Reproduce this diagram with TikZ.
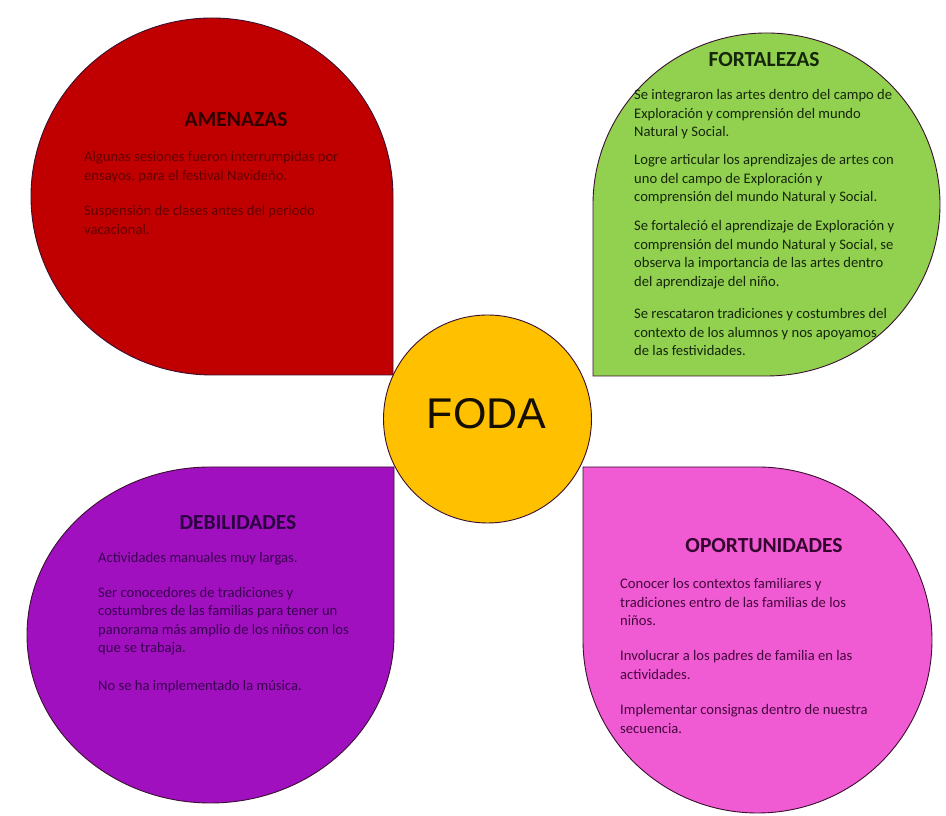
\documentclass[tikz,border=0pt]{standalone}
\usepackage{fontspec}
\setmainfont{Carlito}
\newfontfamily\fodafont{Liberation Sans}
\definecolor{redfill}{HTML}{C00000}
\definecolor{greenfill}{HTML}{92D050}
\definecolor{purplefill}{HTML}{A010BE}
\definecolor{pinkfill}{HTML}{F05AD2}
\definecolor{goldfill}{HTML}{FFC000}
\definecolor{redtxt}{HTML}{620000}
\definecolor{redttl}{HTML}{2E0000}
\definecolor{greentxt}{HTML}{15260A}
\definecolor{purpletxt}{HTML}{3A0052}
\definecolor{purplettl}{HTML}{2A0040}
\definecolor{pinktxt}{HTML}{45073F}
\definecolor{pinkttl}{HTML}{34062F}
\definecolor{edge}{HTML}{3A1030}
\tikzset{
  petal/.style={draw=edge, line width=0.9pt},
  ttl/.style={anchor=base, inner sep=0pt, font=\fontsize{21.5}{24}\selectfont\bfseries},
  para/.style={anchor=north west, inner sep=0pt, align=left, font=\fontsize{14.6}{18.5}\selectfont},
}
\begin{document}
\begin{tikzpicture}[x=1pt,y=1pt]
\useasboundingbox (0,0) rectangle (946,816);
\fill[white] (0,0) rectangle (946,816);
% AMENAZAS (red), corner bottom-right
\draw[petal, fill=redfill] (393,619.5) arc[start angle=0, end angle=270, x radius=181pt, y radius=178.5pt] -- (393,441) -- cycle;
% FORTALEZAS (green), corner bottom-left
\draw[petal, fill=greenfill] (766.5,440) arc[start angle=-90, end angle=180, x radius=173.5pt, y radius=171.5pt] -- (593,440) -- cycle;
% DEBILIDADES (purple), corner top-right
\draw[petal, fill=purplefill] (210.5,349) arc[start angle=90, end angle=360, x radius=183.5pt, y radius=168pt] -- (394,349) -- cycle;
% OPORTUNIDADES (pink), corner top-left
\draw[petal, fill=pinkfill] (583,176) arc[start angle=180, end angle=450, x radius=174.5pt, y radius=173pt] -- (583,349) -- cycle;
% centre circle
\node[circle, draw=edge, line width=0.9pt, fill=goldfill, minimum size=208pt, inner sep=0pt] (foda) at (487.5,397) {};
\node[inner sep=0pt, font=\fodafont\fontsize{43}{46}\selectfont, text=black!92!goldfill] (fodatxt) at (486.5,402) {FODA};

% AMENAZAS texts
\node[ttl, text=redttl] (tA) at (236,689.5) {AMENAZAS};
\node[para, text=redtxt] (a1) at (84,816-148.5) {\strut Algunas sesiones fueron interrumpidas por\\ensayos, para el festival Navideño.};
\node[para, text=redtxt] (a2) at (84,816-202.5) {\strut Suspensión de clases antes del periodo\\vacacional.};

% FORTALEZAS texts
\node[ttl, text=greentxt] (tF) at (764,749.5) {FORTALEZAS};
\node[para, text=greentxt] (f1) at (634,816-86.5) {\strut Se integraron las artes dentro del campo de\\Exploración y comprensión del mundo\\Natural y Social.};
\node[para, text=greentxt] (f2) at (634,816-151.5) {\strut Logre articular los aprendizajes de artes con\\uno del campo de Exploración y\\comprensión del mundo Natural y Social.};
\node[para, text=greentxt] (f3) at (634,816-217.5) {\strut Se fortaleció el aprendizaje de Exploración y\\comprensión del mundo Natural y Social, se\\observa la importancia de las artes dentro\\del aprendizaje del niño.};
\node[para, text=greentxt] (f4) at (634,816-305.5) {\strut Se rescataron tradiciones y costumbres del\\contexto de los alumnos y nos apoyamos\\de las festividades.};

% DEBILIDADES texts
\node[ttl, text=purplettl] (tD) at (238,816-529.5) {DEBILIDADES};
\node[para, text=purpletxt] (d1) at (98,816-549) {\strut Actividades manuales muy largas.};
\node[para, text=purpletxt] (d2) at (98,816-584) {\strut Ser conocedores de tradiciones y\\costumbres de las familias para tener un\\panorama más amplio de los niños con los\\que se trabaja.};
\node[para, text=purpletxt] (d3) at (98,816-677) {\strut No se ha implementado la música.};

% OPORTUNIDADES texts
\node[ttl, text=pinkttl] (tO) at (764,816-552.5) {OPORTUNIDADES};
\node[para, text=pinktxt] (o1) at (620,816-575.5) {\strut Conocer los contextos familiares y\\tradiciones entro de las familias de los\\niños.};
\node[para, text=pinktxt] (o2) at (620,816-647.5) {\strut Involucrar a los padres de familia en las\\actividades.};
\node[para, text=pinktxt] (o3) at (620,816-701.5) {\strut Implementar consignas dentro de nuestra\\secuencia.};
\end{tikzpicture}
\end{document}
